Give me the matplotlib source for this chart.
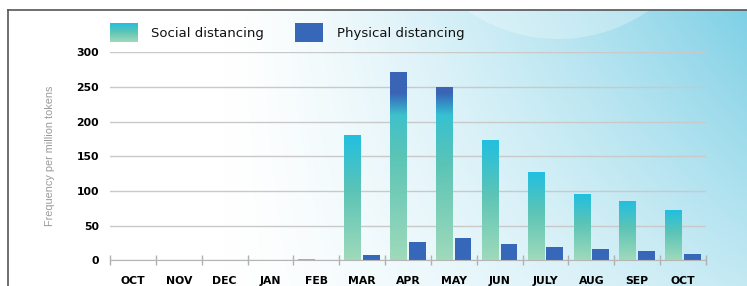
import numpy as np
import matplotlib
matplotlib.use('Agg')
import matplotlib.pyplot as plt
from matplotlib.colors import to_rgb
from matplotlib.patches import Circle

# ---------- data ----------
months = ['OCT', 'NOV', 'DEC', 'JAN', 'FEB', 'MAR', 'APR', 'MAY', 'JUN',
          'JULY', 'AUG', 'SEP', 'OCT']
social = [0, 0, 0, 0, 1, 179, 271, 249, 172, 126, 95, 84, 71]
physical = [0, 0, 0, 0, 0, 7, 27, 32, 23.5, 19, 17, 13, 9]
yticks = [0, 50, 100, 150, 200, 250, 300]

W, H = 747, 286
GREEN = np.array(to_rgb('#9fdabb'))
TEAL = np.array(to_rgb('#5cc4b6'))
CYAN = np.array(to_rgb('#22bfe0'))
BLUE = np.array(to_rgb('#3a64b6'))
PHYS = '#3767b9'


def social_gradient(h, n=200):
    # green at bottom -> teal -> cyan at top, blue cap on very tall bars
    y = np.linspace(0, h, n)
    t = y / h if h > 0 else np.zeros(n)
    c = np.where(t[:, None] < 0.55,
                 GREEN + (TEAL - GREEN) * (t[:, None] / 0.55),
                 TEAL + (CYAN - TEAL) * ((t[:, None] - 0.55) / 0.45))
    k = np.clip((y - 209) / 32, 0, 1)[:, None]
    c = c * (1 - k) + BLUE * k
    return c[:, None, :]


fig = plt.figure(figsize=(W / 100, H / 100), dpi=100)

# ---------- background ----------
bg = fig.add_axes([0, 0, 1, 1], zorder=0)
xx, yy = np.meshgrid(np.arange(W) + 0.5, np.arange(H) + 0.5)
f = np.clip((xx / W - 0.3) / 0.7, 0, 1) ** 1.3 * (0.45 + 0.55 * (1 - yy / H))
corner = np.array(to_rgb('#7ccfe5'))
img = np.ones((H, W, 3)) * (1 - f[..., None]) + corner * f[..., None]
img[(yy < 10) | (xx < 8)] = 1.0
bg.imshow(img, extent=(0, W, H, 0), aspect='auto', interpolation='bilinear')
bg.add_patch(Circle((558, -120), 159, color='white', alpha=0.28, lw=0))
bg.plot([8, W], [9.5, 9.5], color='#555555', lw=1.2)
bg.plot([8, 8], [9.5, H], color='#555555', lw=1.2)

# legend drawn by hand
bg.imshow(social_gradient(1, 50)[::-1], extent=(110, 138, 42, 23), aspect='auto')
bg.add_patch(plt.Rectangle((295, 23), 28, 19, color=PHYS, lw=0))
bg.text(151, 33, 'Social distancing', fontsize=9.5, va='center', color='#111111')
bg.text(337, 33, 'Physical distancing', fontsize=9.5, va='center', color='#111111')
bg.set_xlim(0, W)
bg.set_ylim(H, 0)
bg.axis('off')

# ---------- main chart ----------
ax = fig.add_axes([110 / W, 1 - 260.3 / H, 596 / W, 208 / H], zorder=1)
ax.set_facecolor('none')

x = np.arange(len(months))
for i in x:
    h = social[i]
    if h > 0:
        ax.imshow(social_gradient(h)[::-1], extent=(i - 0.39, i - 0.02, 0, h),
                  aspect='auto', zorder=3)
ax.bar(x + 0.02, physical, width=0.365, align='edge', color=PHYS, zorder=3)

ax.set_xlim(-0.5, len(months) - 0.5)
ax.set_ylim(0, 300)

ax.set_yticks(yticks)
ax.set_yticklabels([str(v) for v in yticks], fontsize=7.8, fontweight='bold')
ax.tick_params(axis='y', length=0, pad=8)
ax.grid(axis='y', color='#c9c9c9', lw=1, zorder=1)

ax.set_xticks(np.append(x - 0.5, len(months) - 0.5))
ax.set_xticklabels([])
ax.set_xticks(x, minor=True)
ax.set_xticklabels(months, minor=True, fontsize=7.8, fontweight='bold')
ax.tick_params(axis='x', which='major', direction='inout', length=7,
               color='#b0b0b0', width=1)
ax.tick_params(axis='x', which='minor', length=0, pad=11)

for s in ['top', 'right', 'left']:
    ax.spines[s].set_visible(False)
ax.spines['bottom'].set_color('#b5b5b5')
ax.spines['bottom'].set_zorder(4)

ax.set_ylabel('Frequency per million tokens', fontsize=7.8, color='#9a9a9a',
              family='Liberation Sans', labelpad=15)

fig.savefig('out.png', dpi=100)
